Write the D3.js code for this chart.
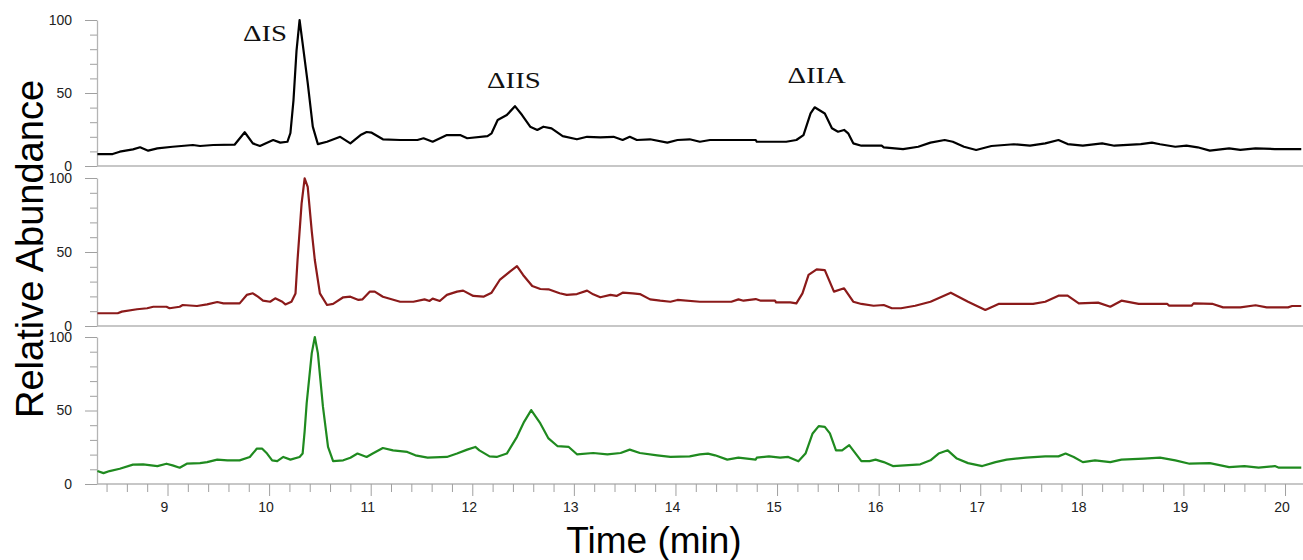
<!DOCTYPE html>
<html><head><meta charset="utf-8">
<script src="https://cdn.jsdelivr.net/npm/d3@7"></script>
<style>body{margin:0;background:#fff}svg{display:block}</style>
</head><body>
<svg id="chart" width="1303" height="560"></svg>
<script>
// ---------- DATA ----------
const seriesNames = ["trace1", "trace2", "trace3"];
const seriesColors = ["#000000", "#8b1a1a", "#1f8a1f"];

const blackTime = [8.31,8.46,8.53,8.66,8.73,8.81,8.90,9.05,9.25,9.32,9.45,9.66,9.76,9.84,9.91,9.98,10.04,10.11,10.18,10.21,10.24,10.27,10.30,10.33,10.38,10.43,10.48,10.57,10.70,10.80,10.90,10.96,11.01,11.12,11.29,11.46,11.52,11.61,11.75,11.88,11.95,12.15,12.19,12.25,12.34,12.42,12.49,12.57,12.64,12.70,12.78,12.89,13.03,13.13,13.26,13.39,13.48,13.55,13.62,13.75,13.92,14.02,14.14,14.24,14.34,14.79,14.80,15.09,15.19,15.26,15.33,15.37,15.47,15.54,15.60,15.66,15.70,15.75,15.83,16.03,16.05,16.24,16.39,16.51,16.65,16.73,16.84,16.96,17.11,17.33,17.49,17.64,17.77,17.86,18.01,18.20,18.32,18.58,18.69,18.77,18.92,19.03,19.14,19.26,19.45,19.56,19.71,19.90,20.16];
const blackAbund = [8.2,8.2,9.8,11.4,12.8,10.5,12.1,13.2,14.4,13.7,14.4,14.6,23.1,15.5,13.7,16,17.8,16,16.6,22.6,45,79,100,84,57,27,15,16.6,20,15.5,21.2,23.3,22.8,18.3,17.8,17.8,19,16.6,21.2,21.2,19,20.5,22.4,31.5,34.9,41,34.9,26.9,24.7,26.9,25.8,20.5,18.3,20,19.6,20,17.8,20,17.8,18.3,16,17.8,18.3,16.6,17.8,17.8,16.6,16.6,17.8,21.2,36,40.2,36,25.8,23.5,24.7,22.4,15.5,13.9,13.9,12.8,11.6,13.2,16,17.8,16.6,13.2,11,13.7,14.9,13.9,15.5,17.8,15,13.9,15.5,13.9,15,16,14.9,13.2,13.9,12.8,10.5,12.1,11,12.1,11.6,11.6];

const redTime = [8.31,8.51,8.55,8.70,8.80,8.86,8.99,9.02,9.12,9.15,9.29,9.39,9.49,9.55,9.71,9.78,9.84,9.89,9.94,10.01,10.06,10.13,10.16,10.22,10.26,10.28,10.32,10.35,10.38,10.42,10.45,10.50,10.57,10.63,10.73,10.80,10.88,10.92,10.99,11.04,11.12,11.29,11.42,11.53,11.58,11.61,11.68,11.75,11.85,11.91,12.01,12.11,12.19,12.27,12.37,12.44,12.50,12.59,12.67,12.75,12.86,12.93,13.03,13.13,13.19,13.26,13.36,13.42,13.48,13.58,13.65,13.75,13.85,13.95,14.02,14.24,14.55,14.62,14.67,14.79,14.84,14.98,14.99,15.13,15.19,15.25,15.31,15.39,15.47,15.56,15.66,15.75,15.83,15.95,16.05,16.13,16.22,16.36,16.51,16.71,16.88,17.05,17.18,17.33,17.52,17.64,17.77,17.86,17.97,18.16,18.28,18.39,18.56,18.84,18.86,19.08,19.10,19.29,19.39,19.56,19.71,19.82,20.03,20.07,20.16];
const redAbund = [8.6,8.6,9.7,11.3,12,13,13,12,13,14.2,13.5,14.6,16.2,15.3,15.3,21,22.1,19.8,17.1,16.4,18.7,16.4,14.6,16.4,22,44.6,82.9,99.8,94,64,44.6,22,14.2,14.9,19.4,19.8,17.6,18,23.2,23.2,19.8,16.4,16.4,18,16.9,18.5,16.9,21,23.2,23.9,20.3,19.8,22.5,31.1,36.7,40.5,34.5,27,25,24.8,22.1,21,21.6,23.9,21.4,19.4,21,20.3,22.5,22.1,21.6,18,17.1,16.4,17.6,16.4,16.4,18,17.1,18.2,17.1,17.1,16,16,15.3,22,34.5,38.3,37.8,23.2,25.5,16.4,14.9,13.7,14.2,12,12,13.7,16.4,22.5,16.4,10.8,14.9,14.9,14.9,16.4,20.5,20.5,15.3,15.8,13,17.1,14.9,14.9,13.7,13.7,15.3,14.9,12.6,12.6,14,12.6,12.6,13.5,13.5];

const greenTime = [8.31,8.37,8.43,8.53,8.66,8.76,8.90,8.99,9.05,9.12,9.19,9.32,9.39,9.49,9.59,9.71,9.81,9.88,9.93,9.98,10.03,10.08,10.14,10.21,10.30,10.33,10.35,10.37,10.42,10.45,10.48,10.53,10.58,10.63,10.73,10.80,10.87,10.96,11.02,11.12,11.22,11.36,11.44,11.56,11.75,11.85,11.95,12.03,12.07,12.17,12.24,12.34,12.44,12.51,12.58,12.67,12.75,12.84,12.95,13.03,13.19,13.33,13.46,13.55,13.65,13.82,13.95,14.14,14.24,14.32,14.39,14.51,14.62,14.79,14.80,14.92,15.03,15.11,15.21,15.28,15.35,15.41,15.47,15.52,15.58,15.64,15.71,15.83,15.91,15.97,16.05,16.14,16.41,16.51,16.59,16.68,16.77,16.88,17.02,17.15,17.26,17.45,17.64,17.77,17.84,17.92,18.01,18.13,18.28,18.39,18.61,18.77,18.92,19.06,19.26,19.45,19.60,19.74,19.90,19.94,20.16];
const greenAbund = [8.8,7.4,8.8,10.4,13.2,13.4,12.2,13.8,12.7,11.1,13.8,14.2,14.9,16.6,16.1,16.1,18.4,24.1,24.1,20.7,16.1,15.6,18.4,16.6,18.4,20.7,36,55,89,100,89,52.6,25.2,15.6,16.1,17.9,20.7,18.4,20.7,24.5,22.9,21.8,19.5,17.9,18.4,20.7,23.4,25.2,22.9,18.8,18.4,20.7,32.1,42.3,50.3,41.2,31,25.7,25.2,20.2,21.1,20.2,21.1,23.4,21.1,19.5,18.4,18.8,20.2,20.7,19.5,16.6,17.9,16.6,17.9,18.8,17.9,18.4,15.4,20.7,34.4,39.4,38.9,34.4,22.9,22.9,26.4,15.6,15.6,16.6,14.9,12.2,13.4,16.1,20.7,22.9,17.3,14.2,12.2,14.9,16.6,17.9,18.8,18.8,20.7,18.4,14.9,16.1,14.9,16.6,17.3,17.9,16.1,13.8,14.2,11.5,12.2,11.1,12.2,11.1,11.1];

const yTickLabels = [0, 50, 100];
const xTickLabels = [9,10,11,12,13,14,15,16,17,18,19,20];
const peakLabels = ["\u0394IS", "\u0394IIS", "\u0394IIA"];
const peakLabelTime = [9.96, 12.41, 15.39];
const peakLabelAbund = [85.6, 53.4, 56.8];

const xTitle = "Time (min)";
const yTitle = "Relative Abundance";

// ---------- LAYOUT ----------
const W = 1303, H = 560;
const left = 97, right = 1303;
const panels = [
  {top: 20, bottom: 166},
  {top: 178, bottom: 326},
  {top: 337, bottom: 484}
];
const axisGray = "#b4b4b4";
const tickGray = "#a0a0a0";

const svg = d3.select("#chart");
svg.append("rect").attr("width", W).attr("height", H).attr("fill", "#fff");

const x = d3.scaleLinear().domain([8.306, 20.177]).range([left, right]);

const data = [
  blackTime.map((t,i)=>[t, blackAbund[i]]),
  redTime.map((t,i)=>[t, redAbund[i]]),
  greenTime.map((t,i)=>[t, greenAbund[i]])
];

const yScales = panels.map(p => d3.scaleLinear().domain([0,100]).range([p.bottom, p.top]));

panels.forEach((p, k) => {
  const y = yScales[k];
  const g = svg.append("g");
  g.append("line").attr("x1", left).attr("x2", right)
    .attr("y1", y(0)).attr("y2", y(0))
    .attr("stroke", axisGray).attr("stroke-width", 1.3);
  const ax = d3.axisLeft(y).tickValues(d3.range(0, 101, 10))
    .tickSize(0).tickFormat("");
  const ag = g.append("g").attr("transform", `translate(${left},0)`).call(ax);
  ag.select(".domain").attr("stroke", axisGray).attr("stroke-width", 1.3);
  ag.selectAll(".tick line")
    .attr("x2", d => (d % 50 === 0) ? -12 : -7)
    .attr("stroke", tickGray);
  g.selectAll("text.yl").data(yTickLabels).enter().append("text")
    .attr("class", "yl")
    .attr("x", 72).attr("y", d => y(d))
    .attr("dy", "0.35em")
    .attr("text-anchor", "end")
    .attr("font-family", "Liberation Sans, Arial, sans-serif")
    .attr("font-size", 14)
    .attr("fill", "#222")
    .text(d => d);

  const line = d3.line().x(d => x(d[0])).y(d => y(d[1]));
  g.append("path").datum(data[k])
    .attr("d", line)
    .attr("fill", "none")
    .attr("stroke", seriesColors[k])
    .attr("stroke-width", 2.2)
    .attr("stroke-linejoin", "round");
});

// x axis at bottom
const yb = panels[2].bottom;
const xa = d3.axisBottom(x)
  .tickValues(d3.range(8.4, 20.101, 0.2).map(v => Math.round(v*10)/10))
  .tickSize(0).tickFormat("");
const xg = svg.append("g").attr("transform", `translate(0,${yb})`).call(xa);
xg.select(".domain").remove();
xg.selectAll(".tick line")
  .attr("y2", d => (Math.abs(d - Math.round(d)) < 1e-6) ? 12 : 8)
  .attr("stroke", tickGray);
svg.selectAll("text.xl").data(xTickLabels).enter().append("text")
  .attr("class", "xl")
  .attr("x", d => x(d) - 3).attr("y", 512)
  .attr("text-anchor", "middle")
  .attr("font-family", "Liberation Sans, Arial, sans-serif")
  .attr("font-size", 14)
  .attr("fill", "#222")
  .text(d => d);

svg.append("text")
  .attr("x", 654).attr("y", 553)
  .attr("text-anchor", "middle")
  .attr("font-family", "Liberation Sans, Arial, sans-serif")
  .attr("font-size", 37)
  .attr("fill", "#000")
  .text(xTitle);

svg.append("text")
  .attr("transform", "translate(43,249) rotate(-90)")
  .attr("text-anchor", "middle")
  .attr("font-family", "Liberation Sans, Arial, sans-serif")
  .attr("font-size", 38)
  .attr("fill", "#000")
  .text(yTitle);

peakLabels.forEach((lab, i) => {
  const t = svg.append("text")
    .attr("x", x(peakLabelTime[i])).attr("y", yScales[0](peakLabelAbund[i]))
    .attr("text-anchor", "middle")
    .attr("font-family", "Liberation Serif, Times New Roman, serif")
    .attr("font-size", 24)
    .attr("fill", "#111")
    .text(lab);
  const w = t.node().getComputedTextLength();
  t.attr("textLength", w * 1.2).attr("lengthAdjust", "spacingAndGlyphs");
});
</script>
</body></html>
